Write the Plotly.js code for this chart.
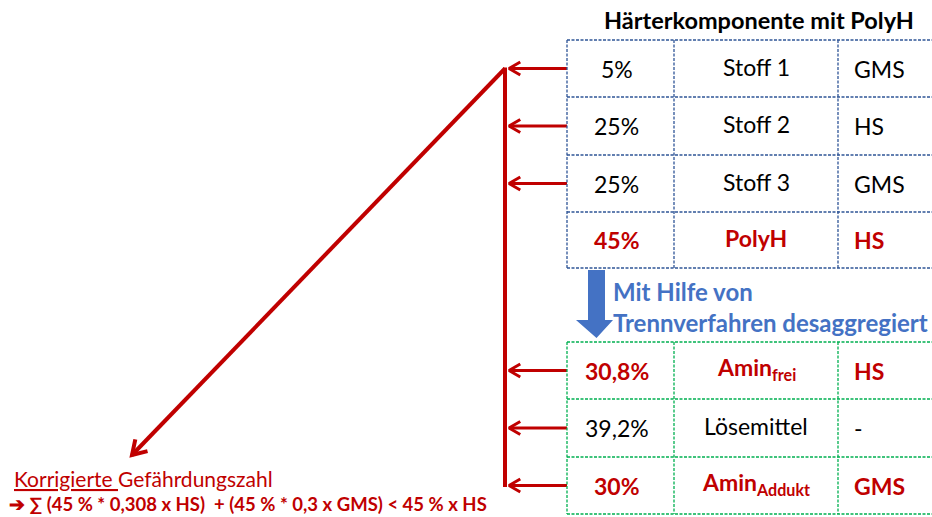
<!DOCTYPE html>
<html>
<head>
<meta charset="utf-8">
<script src="https://cdn.plot.ly/plotly-3.0.1.min.js"></script>
<style>html,body{margin:0;padding:0;background:#fff;}#chart{width:932px;height:517px;}</style>
</head>
<body>
<div id="chart"></div>
<script>
// ---- data ----
var tableTitle = "Härterkomponente mit PolyH";
var topShares = ["5%", "25%", "25%", "45%"];
var topSubstances = ["Stoff 1", "Stoff 2", "Stoff 3", "PolyH"];
var topClasses = ["GMS", "HS", "GMS", "HS"];
var topHighlight = [false, false, false, true];
var topArrow = [true, true, true, false];

var splitLabel = "Mit Hilfe von<br>Trennverfahren desaggregiert";

var bottomShares = ["30,8%", "39,2%", "30%"];
var bottomSubstances = ["Amin<sub>frei</sub>", "Lösemittel", "Amin<sub>Addukt</sub>"];
var bottomClasses = ["HS", "-", "GMS"];
var bottomHighlight = [true, false, true];
var bottomArrow = [true, true, true];

var resultTitle = "<u>Korrigierte </u>Gefährdungszahl";
var resultFormula = "<b>➔ ∑ (45 % * 0,308 x HS) &nbsp;+ (45 % * 0,3 x GMS) &lt; 45 % x HS</b>";

// ---- layout constants ----
var RED = "#C00000", BLUE = "#4472C4", NAVY = "#2F5597", GREEN = "#00B050";
var FONT = "Lato, 'Open Sans', sans-serif";
var CELL = 23;
var colX = [567, 674, 838, 940];
var topRowsY = [40, 97, 155, 212, 268];
var botRowsY = [342, 399, 457, 514];
var trunkX = 505;

var shapes = [], annotations = [], traces = [];

// arrow: shaft from (x0,y0) to tip (x1,y1) plus an open chevron head
function arrowTraces(x0, y0, x1, y1, w, headLen, halfAngleDeg) {
  var dx = x1 - x0, dy = y1 - y0, L = Math.sqrt(dx*dx + dy*dy);
  var ux = dx / L, uy = dy / L, a = halfAngleDeg * Math.PI / 180;
  function arm(s) {
    var c = Math.cos(s*a), sn = Math.sin(s*a);
    var rx = ux*c - uy*sn, ry = ux*sn + uy*c;
    return [x1 - headLen*rx, y1 - headLen*ry];
  }
  var p1 = arm(1), p2 = arm(-1);
  return [
    {type:"scatter", mode:"lines", x:[x0, x1], y:[y0, y1],
      line:{color:RED, width:w}, hoverinfo:"skip"},
    {type:"scatter", mode:"lines", x:[p1[0], x1, p2[0]], y:[p1[1], y1, p2[1]],
      line:{color:RED, width:w}, hoverinfo:"skip"}
  ];
}

function table(rowsY, color, shares, subs, classes, hl, arrows) {
  for (var i = 0; i < rowsY.length; i++) {
    shapes.push({type:"line", x0:colX[0], x1:colX[3], y0:rowsY[i], y1:rowsY[i],
      line:{color:color, width:1.3, dash:"3px,1.5px"}});
  }
  for (var j = 0; j < colX.length; j++) {
    shapes.push({type:"line", x0:colX[j], x1:colX[j], y0:rowsY[0], y1:rowsY[rowsY.length-1],
      line:{color:color, width:1.3, dash:"3px,1.5px"}});
  }
  for (var r = 0; r < shares.length; r++) {
    var yc = (rowsY[r] + rowsY[r+1]) / 2;
    var c = hl[r] ? RED : "#000";
    var b = hl[r];
    var wrap = function (s) { return b ? "<b>" + s + "</b>" : s; };
    annotations.push({x:(colX[0]+colX[1])/2 - 4, y:yc, text:wrap(shares[r]), showarrow:false,
      xanchor:"center", yanchor:"middle", font:{family:FONT, size:CELL, color:c}});
    annotations.push({x:(colX[1]+colX[2])/2, y:yc - 2, text:wrap(subs[r]), showarrow:false,
      xanchor:"center", yanchor:"middle", font:{family:FONT, size:CELL, color:c}});
    annotations.push({x:colX[2]+14, y:yc, text:wrap(classes[r]), showarrow:false,
      xanchor:"left", yanchor:"middle", font:{family:FONT, size:CELL, color:c}});
    if (arrows[r]) traces = traces.concat(arrowTraces(colX[0], yc, trunkX + 4, yc, 3, 13, 30));
  }
}

table(topRowsY, NAVY, topShares, topSubstances, topClasses, topHighlight, topArrow);
table(botRowsY, GREEN, bottomShares, bottomSubstances, bottomClasses, bottomHighlight, bottomArrow);

// red trunk
var trunkTop = (topRowsY[0] + topRowsY[1]) / 2;
var trunkBottom = (botRowsY[2] + botRowsY[3]) / 2 + 1.5;
traces.push({type:"scatter", mode:"lines", x:[trunkX, trunkX], y:[trunkTop - 1, trunkBottom],
  line:{color:RED, width:4}, hoverinfo:"skip"});
// diagonal arrow
traces = traces.concat(arrowTraces(trunkX, trunkTop, 132, 455, 4, 16, 32));

// blue block arrow
shapes.push({type:"path",
  path:"M 588 270 L 605 270 L 605 320 L 613 320 L 596.5 338 L 576 320 L 588 320 Z",
  fillcolor:BLUE, line:{color:BLUE, width:0}});

// title
annotations.push({x:759, y:20, text:"<b>" + tableTitle + "</b>", showarrow:false,
  xanchor:"center", yanchor:"middle", font:{family:FONT, size:23.5, color:"#000"}});
// split label
annotations.push({x:611, y:307, text:"<b>" + splitLabel + "</b>", showarrow:false,
  xanchor:"left", yanchor:"middle", align:"left",
  font:{family:FONT, size:24, color:BLUE}});
// result text
annotations.push({x:12, y:478, text:resultTitle, showarrow:false,
  xanchor:"left", yanchor:"middle", font:{family:FONT, size:21, color:RED}});
annotations.push({x:7, y:504, text:resultFormula, showarrow:false,
  xanchor:"left", yanchor:"middle", font:{family:FONT, size:18.5, color:RED}});

var layout = {
  width:932, height:517, margin:{l:0, r:0, t:0, b:0},
  paper_bgcolor:"#fff", plot_bgcolor:"#fff", showlegend:false,
  xaxis:{range:[0,932], visible:false, fixedrange:true},
  yaxis:{range:[517,0], visible:false, fixedrange:true},
  shapes:shapes, annotations:annotations
};
Plotly.newPlot("chart", traces, layout, {displayModeBar:false, staticPlot:true});
</script>
</body>
</html>
